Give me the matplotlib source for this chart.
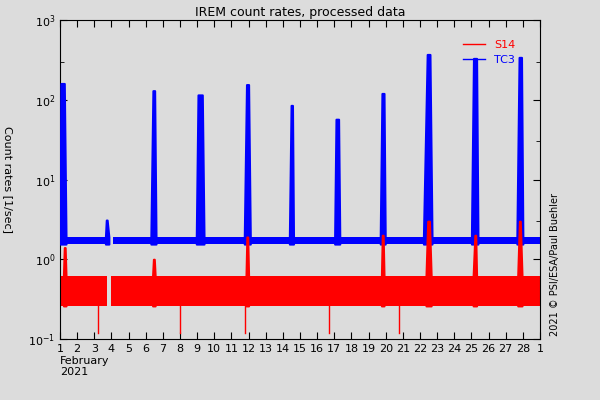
import matplotlib
matplotlib.use("Agg")
import matplotlib.pyplot as plt
import numpy as np

# Blue (TC3) baseline band and spike events: (start, peak start, peak end, end, peak value)
tc3_base_lo, tc3_base_hi = 1.55, 1.9
tc3_peaks = [(1.0, 1.05, 1.25, 1.35, 160), (3.65, 3.7, 3.75, 3.85, 3.1),
             (6.3, 6.42, 6.52, 6.6, 130), (8.95, 9.05, 9.3, 9.4, 115),
             (11.75, 11.88, 12.0, 12.1, 155), (14.38, 14.48, 14.56, 14.62, 85),
             (17.02, 17.1, 17.25, 17.32, 57), (19.68, 19.78, 19.9, 19.97, 120),
             (22.2, 22.42, 22.58, 22.7, 370), (25.0, 25.12, 25.3, 25.38, 330),
             (27.65, 27.78, 27.92, 28.0, 340)]
tc3_gaps = [(3.9, 4.1)]
# Red (S14) baseline band and spikes
s14_base_lo, s14_base_hi = 0.26, 0.62
s14_peaks = [(1.2, 1.25, 1.3, 1.35, 1.4), (6.4, 6.45, 6.5, 6.55, 1.0),
             (11.85, 11.9, 11.95, 12.0, 1.9), (19.75, 19.8, 19.85, 19.9, 2.0),
             (22.35, 22.45, 22.55, 22.65, 3.0), (25.1, 25.2, 25.25, 25.3, 2.0),
             (27.7, 27.8, 27.85, 27.95, 3.0)]
s14_drops = [8.0, 20.8, 11.8, 16.7, 3.2]
xtick_labels = [str(d) for d in range(1, 29)] + ["1"]

bg = "#dcdcdc"
fig = plt.figure(figsize=(6, 4), dpi=100, facecolor=bg)
ax = fig.add_axes([0.1, 0.1525, 0.8, 0.7975], facecolor=bg)
ax.set_yscale("log")
ax.set_xlim(1, 29)
ax.set_ylim(0.1, 1000)

def band(lo, hi, gaps, color):
    edges = [1.0] + [g for gp in gaps for g in gp] + [29.0]
    for a, b in zip(edges[::2], edges[1::2]):
        ax.fill_between([a, b], [lo, lo], [hi, hi], color=color, lw=0, zorder=2)

def spikes(peaks, lo, hi, color):
    for s, p1, p2, e, v in peaks:
        ax.fill_between([s, p1, p2, e], [lo, lo, lo, lo], [hi, v, v, hi], color=color, lw=1.5, zorder=3)

band(tc3_base_lo, tc3_base_hi, tc3_gaps, "blue")
spikes(tc3_peaks, tc3_base_lo, tc3_base_hi, "blue")
band(s14_base_lo, s14_base_hi, [(3.75, 3.95)], "red")
spikes(s14_peaks, s14_base_lo, s14_base_hi, "red")
for d in s14_drops:
    ax.plot([d, d], [0.12, s14_base_lo], color="red", lw=1, zorder=2)

ax.set_xticks(range(1, 30))
ax.set_xticklabels(xtick_labels, fontsize=8)
ax.set_yticks([0.1, 1, 10, 100, 1000])
ax.set_yticklabels([r"$10^{-1}$", r"$10^{0}$", r"$10^{1}$", r"$10^{2}$", r"$10^{3}$"], fontsize=8)
ax.yaxis.set_minor_locator(matplotlib.ticker.FixedLocator([0.3, 3, 30, 300]))
ax.yaxis.set_minor_formatter(matplotlib.ticker.NullFormatter())
ax.tick_params(direction="in", top=True, right=True, which="both", length=5)
ax.tick_params(which="minor", length=3)
ax.set_title("IREM count rates, processed data", fontsize=9, pad=3)
ax.set_ylabel("Count rates [1/sec]", fontsize=8, rotation=270, labelpad=18)
ax.text(1, 0.062, "February\n2021", fontsize=8, va="top", ha="left")
ax.plot([], [], color="red", lw=1, label="S14")
ax.plot([], [], color="blue", lw=1, label="TC3")
leg = ax.legend(loc="upper right", bbox_to_anchor=(0.97, 0.97), frameon=False, fontsize=8, handlelength=2)
for t, c in zip(leg.get_texts(), ["red", "blue"]):
    t.set_color(c)
fig.text(0.925, 0.16, "2021 © PSI/ESA/Paul Buehler", rotation=90, fontsize=7, va="bottom", ha="center")
fig.savefig("out.png", dpi=100, facecolor=bg)
